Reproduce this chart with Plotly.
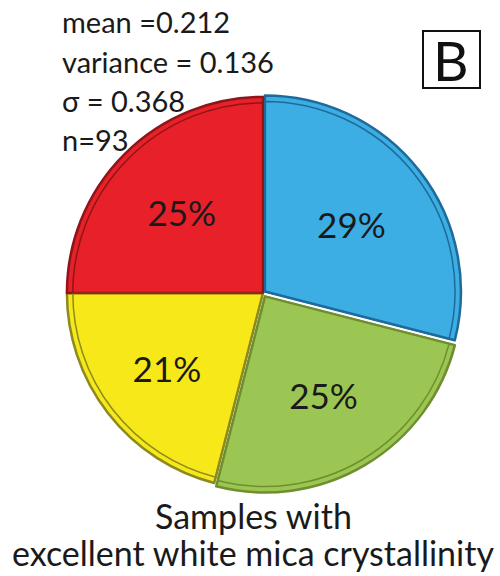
import plotly.graph_objects as go

# Share of samples per class, clockwise from 12 o'clock
classes = ["Class 1", "Class 2", "Class 3", "Class 4"]
shares = [29, 25, 21, 25]
fill_colors = ["#3DAEE4", "#9CC653", "#F7E81A", "#E8202A"]
edge_colors = ["#1D6B9A", "#6F8F2E", "#8C8A1C", "#8E1518"]
pulls = [0.012, 0.02, 0, 0]

stats_lines = ["mean =0.212", "variance = 0.136", "σ = 0.368", "n=93"]
panel_letter = "B"
caption_lines = ["Samples with", "excellent white mica crystallinity"]

FONT = "Lato, 'Open Sans', sans-serif"
W, H = 500, 576
CX, CY = 263, 283  # pie centre in px from left / bottom


def pie_domain(r):
    return dict(x=[(CX - r) / W, (CX + r) / W], y=[(CY - r) / H, (CY + r) / H])


fig = go.Figure()
fig.add_trace(go.Pie(
    labels=classes,
    values=shares,
    sort=False,
    direction="clockwise",
    rotation=0,
    pull=pulls,
    marker=dict(colors=fill_colors, line=dict(color=edge_colors, width=2.5)),
    texttemplate="%{value}%",
    textinfo="text",
    textposition="inside",
    insidetextorientation="horizontal",
    textfont=dict(family=FONT, size=35, color="#1a1a1a"),
    showlegend=False,
    hoverinfo="skip",
    domain=pie_domain(200),
))

# inner bevel outline of each wedge
fig.add_trace(go.Pie(
    labels=classes,
    values=shares,
    sort=False,
    direction="clockwise",
    rotation=0,
    pull=pulls,
    marker=dict(colors=["rgba(0,0,0,0)"] * len(shares),
                line=dict(color=edge_colors, width=1.5)),
    textinfo="none",
    showlegend=False,
    hoverinfo="skip",
    domain=pie_domain(194),
))

annotations = []
for i, line in enumerate(stats_lines):
    annotations.append(dict(
        x=60 / W, y=1 - (22 + i * 39) / H, xref="paper", yref="paper",
        xanchor="left", yanchor="middle", showarrow=False,
        text=line, font=dict(family=FONT, size=29, color="#1a1a1a"),
    ))

annotations.append(dict(
    x=451 / W, y=1 - 60 / H, xref="paper", yref="paper",
    xanchor="center", yanchor="middle", showarrow=False,
    text=panel_letter, font=dict(family=FONT, size=55, color="#111111"),
))

for i, line in enumerate(caption_lines):
    annotations.append(dict(
        x=253 / W, y=1 - (515 + i * 37) / H, xref="paper", yref="paper",
        xanchor="center", yanchor="middle", showarrow=False,
        text=line, font=dict(family=FONT, size=34, color="#1a1a1a"),
    ))

fig.update_layout(
    width=W, height=H,
    margin=dict(l=0, r=0, t=0, b=0),
    paper_bgcolor="white", plot_bgcolor="white",
    annotations=annotations,
    shapes=[dict(type="rect", xref="paper", yref="paper",
                 x0=423 / W, x1=480 / W, y0=1 - 88 / H, y1=1 - 31 / H,
                 line=dict(color="#111111", width=2))],
)

fig.write_html("out.html")
